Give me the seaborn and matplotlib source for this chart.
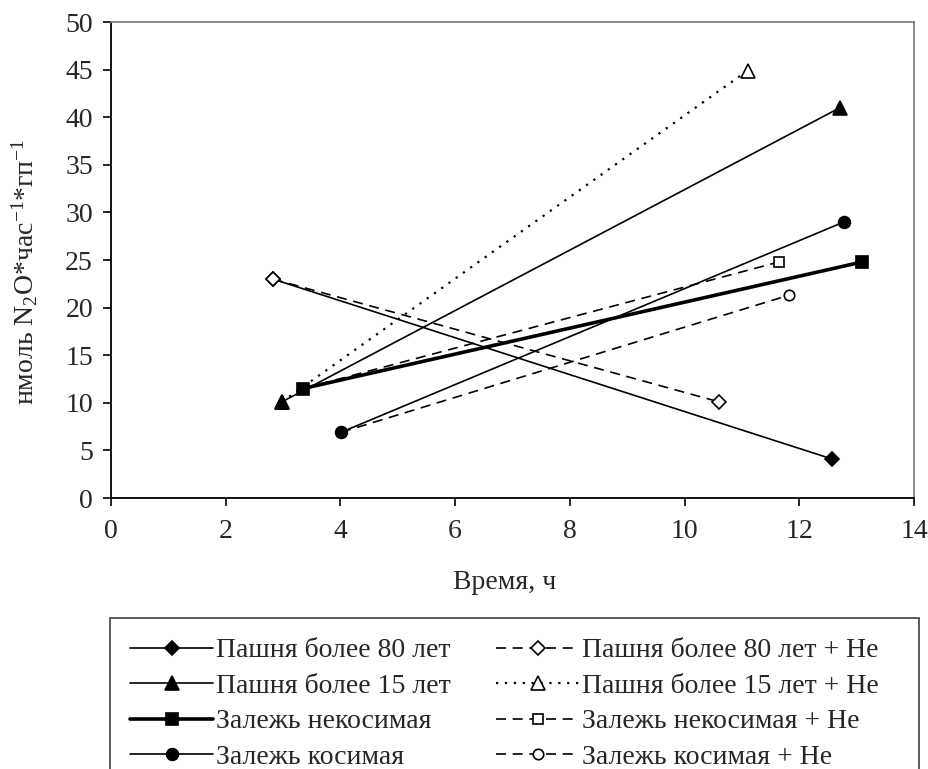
import matplotlib
matplotlib.use("Agg")
import matplotlib.pyplot as plt
from matplotlib.patches import Rectangle
import seaborn as sns
import pandas as pd

# ---- data ----
series_names = [
    "Пашня более 80 лет",
    "Пашня более 15 лет",
    "Залежь некосимая",
    "Залежь косимая",
    "Пашня более 80 лет + He",
    "Пашня более 15 лет + He",
    "Залежь некосимая + He",
    "Залежь косимая + He",
]
time_x = [
    [2.82, 12.57],
    [2.98, 12.71],
    [3.35, 13.10],
    [4.01, 12.78],
    [2.82, 10.60],
    [2.98, 11.10],
    [3.35, 11.65],
    [4.01, 11.82],
]
n2o_y = [
    [23.0, 4.1],
    [10.1, 41.0],
    [11.5, 24.8],
    [6.9, 29.0],
    [23.0, 10.1],
    [10.1, 44.9],
    [11.5, 24.8],
    [6.9, 21.3],
]
x_ticks = [0, 2, 4, 6, 8, 10, 12, 14]
y_ticks = [0, 5, 10, 15, 20, 25, 30, 35, 40, 45, 50]

rows = []
for name, xs, ys in zip(series_names, time_x, n2o_y):
    for xv, yv in zip(xs, ys):
        rows.append({"series": name, "t": xv, "v": yv})
df = pd.DataFrame(rows)

# ---- styles ----
sns.set_theme(style="white")
plt.rcParams["font.family"] = ["Liberation Serif", "DejaVu Serif"]
plt.rcParams["mathtext.fontset"] = "custom"
plt.rcParams["mathtext.rm"] = "Liberation Serif"
plt.rcParams["mathtext.it"] = "Liberation Serif"

FS = 20
dash = (0, (6, 4))
dot = (0, (1, 3))
styles = {
    "Пашня более 80 лет": dict(marker="D", ls="-", lw=1.2, ms=7.5, mfc="black", z=3),
    "Пашня более 15 лет": dict(marker="^", ls="-", lw=1.2, ms=10.5, mfc="black", z=4),
    "Залежь некосимая": dict(marker="s", ls="-", lw=2.6, ms=8.5, mfc="black", z=4),
    "Залежь косимая": dict(marker="o", ls="-", lw=1.2, ms=8.5, mfc="black", z=4),
    "Пашня более 80 лет + He": dict(marker="D", ls=dash, lw=1.2, ms=7, mfc="white", z=5),
    "Пашня более 15 лет + He": dict(marker="^", ls=dot, lw=1.6, ms=10, mfc="white", z=2),
    "Залежь некосимая + He": dict(marker="s", ls=dash, lw=1.2, ms=7, mfc="white", z=2),
    "Залежь косимая + He": dict(marker="o", ls=dash, lw=1.2, ms=7.5, mfc="white", z=2),
}

W, H = 929, 769
fig = plt.figure(figsize=(W / 100, H / 100), dpi=100)
ax = fig.add_axes([111 / W, 1 - 498 / H, (914 - 111) / W, (498 - 22) / H])

for name in series_names:
    st = styles[name]
    sub = df[df["series"] == name]
    sns.lineplot(
        data=sub, x="t", y="v", ax=ax, color="black",
        marker=st["marker"], linestyle=st["ls"], linewidth=st["lw"],
        markersize=st["ms"], markerfacecolor=st["mfc"],
        markeredgecolor="black", markeredgewidth=1.2,
        label=name, zorder=st["z"], legend=False,
    )

ax.set_xlim(0, 14)
ax.set_ylim(0, 50)
ax.set_xticks(x_ticks)
ax.set_yticks(y_ticks)
ax.tick_params(axis="both", labelsize=FS, direction="out", length=6,
               width=1.2, color="black", bottom=True, left=True, pad=7)
ax.tick_params(axis="x", pad=9)
for s in ["left", "bottom"]:
    ax.spines[s].set_color("black")
    ax.spines[s].set_linewidth(1.3)
for s in ["top", "right"]:
    ax.spines[s].set_color("#808080")
    ax.spines[s].set_linewidth(1.3)

ax.set_xlabel("Время, ч", fontsize=FS)
ax.set_ylabel(r"нмоль N$_2$O*час$^{-1}$*гп$^{-1}$", fontsize=FS)
ax.xaxis.set_label_coords(0.49, -0.152)
ax.yaxis.set_label_coords(-0.088, 0.475)

# legend box (extends past the bottom edge like the reference)
fig.add_artist(Rectangle((110 / W, -0.05), (919 - 110) / W, 1 - 618 / H + 0.05,
                         transform=fig.transFigure, facecolor="white",
                         edgecolor="#404040", linewidth=1.2, zorder=0))

handles = ax.get_lines()
labels = [h.get_label() for h in handles]
leg = fig.legend(
    handles, labels, ncol=2, loc="upper left",
    bbox_to_anchor=(110 / W, 1 - 618 / H),
    fontsize=FS, frameon=False, handlelength=3.0, handletextpad=0.08,
    labelspacing=0.36, borderpad=0.72, borderaxespad=0, columnspacing=1.65,
)

fig.savefig("out.png", dpi=100)
